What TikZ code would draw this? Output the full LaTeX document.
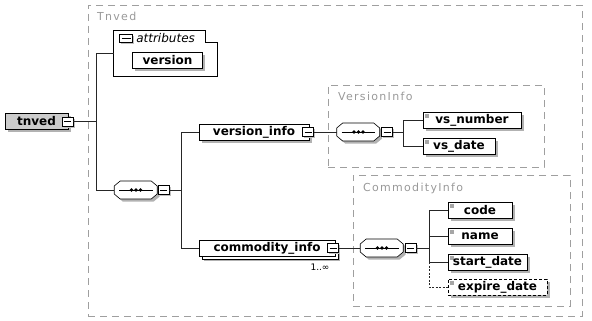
\documentclass[tikz,border=0pt]{standalone}
\usepackage{fontspec}
\setmainfont{DejaVu Sans}
\newfontfamily\grpfont[LetterSpace=12]{DejaVu Sans}
\usetikzlibrary{shadows,calc}

% octagon of a sequence compositor, shifted by #2
\newcommand{\octpath}[2]{([shift={(#2)}]#1.west) ++(0,-4) -- ++(6,-5) -- ++(31,0) -- ++(6,5) -- ++(0,8) -- ++(-6,5) -- ++(-31,0) -- ++(-6,-5) -- cycle}
\newcommand{\seqnode}[2]{%
  \node[seqbox] (#1) at (#2) {};
  \fill[gray!60] \octpath{#1}{2.5pt,-2.5pt};
  \filldraw[fill=white] \octpath{#1}{0pt,0pt};
  \draw ([xshift=5pt]#1.west) -- ([xshift=-5pt]#1.east);
  \foreach \dx in {-4.5,0,4.5} \fill ([xshift=\dx pt]#1.center) circle (1.8pt);
}

\begin{document}
\begin{tikzpicture}[
      x=1pt, y=-1pt,
      font=\fontsize{12}{14}\selectfont,
      line width=0.6pt,
      shade/.style={drop shadow={shadow xshift=2.5pt, shadow yshift=-2.5pt, fill=gray!60, opacity=1}},
      box/.style={draw, fill=white, font=\fontsize{12}{14}\selectfont\bfseries, minimum height=16, inner sep=1pt},
      elem/.style={shade, box},
      leaf/.style={elem, path picture={\fill[gray!70] ([shift={(1.5pt,-1.5pt)}]path picture bounding box.north west) rectangle ++(4.5pt,-4.5pt);}},
      multi/.style={drop shadow={shadow xshift=5pt, shadow yshift=-5pt, fill=gray!60, opacity=1},
                    copy shadow={shadow xshift=3pt, shadow yshift=-3pt, draw, fill=white}},
      minus/.style={draw, fill=white, minimum width=11, minimum height=9, inner sep=0pt,
                    drop shadow={shadow xshift=1.5pt, shadow yshift=-1.5pt, fill=gray!50, opacity=1},
                    path picture={\draw ([xshift=2pt]path picture bounding box.west) -- ([xshift=-2pt]path picture bounding box.east);}},
      seqbox/.style={minimum width=43, minimum height=18, inner sep=0pt},
      grp/.style={draw=gray!75, dash pattern=on 7pt off 5pt, line width=0.5pt},
      grplbl/.style={font=\grpfont\fontsize{11}{13}\selectfont, text=gray!80, anchor=north west, inner sep=0pt},
      conn/.style={draw=black!85}
    ]
    \useasboundingbox (0,0) rectangle (592,321);

    % Frames
    \node[grp, minimum width=494, minimum height=311] (tnvedgrp) at (335,160.5) {};
    \node[grplbl] (tnvedlbl) at ([shift={(9pt,-7pt)}]tnvedgrp.north west) {Tnved};
    \node[grp, minimum width=216, minimum height=82] (vgrp) at (436,126) {};
    \node[grplbl] (vgrplbl) at ([shift={(10pt,-7pt)}]vgrp.north west) {VersionInfo};
    \node[grp, minimum width=217, minimum height=131] (cgrp) at (461.5,240.5) {};
    \node[grplbl] (cgrplbl) at ([shift={(10pt,-8pt)}]cgrp.north west) {CommodityInfo};

    % Root element
    \node[elem, fill=gray!40, minimum width=63] (tnved) at (36.5,121.5) {tnved};
    \node[minus] (tnvedm) at (67.5,121.5) {};

    % Attributes
    \node[minimum width=103, minimum height=45] (attr) at (165.5,53.5) {};
    \draw (attr.north west) -- ([xshift=-12pt]attr.north east) -- ++(0,12) -| (attr.south east) -- (attr.south west) -- cycle;
    \node[minus, minimum width=13, minimum height=8] (attrm) at (126,38.5) {};
    \node[font=\fontsize{12}{14}\selectfont\itshape, anchor=west, inner sep=0pt] (attrlbl) at (136,38.5) {attributes};
    \node[elem, minimum width=70] (version) at (167.5,60.5) {version};

    % Top sequence
    \seqnode{seq1}{136,190}
    \node[minus] (seq1m) at (163.5,190) {};
    \coordinate (j1) at (96,121.5);
    \draw[conn] (tnvedm.east) -- (j1) |- (attr.west);
    \draw[conn] (j1) |- (seq1.west);

    \node[elem, minimum width=110] (vinfo) at (254,132) {version\_info};
    \node[minus] (vinfom) at (308,132) {};
    \node[box, multi, minimum width=136] (cinfo) at (267,248) {commodity\_info};
    \node[minus] (cinfom) at (333,248) {};
    \node[font=\fontsize{9}{11}\selectfont, inner sep=0pt] (cmult) at (320,267) {1..∞};
    \coordinate (j2) at (181,190);
    \draw[conn] (seq1m.east) -- (j2) |- (vinfo.west);
    \draw[conn] (j2) |- (cinfo.west);

    % VersionInfo
    \seqnode{seq2}{358.5,132}
    \node[minus] (seq2m) at (387,132) {};
    \node[leaf, minimum width=98] (vsnum) at (472,120) {vs\_number};
    \node[leaf, minimum width=72] (vsdate) at (459,146) {vs\_date};
    \coordinate (j3) at (403,132);
    \draw[conn] (vinfom.east) -- (seq2.west);
    \draw[conn] (seq2m.east) -- (j3) |- (vsnum.west);
    \draw[conn] (j3) |- (vsdate.west);

    % CommodityInfo
    \seqnode{seq3}{382,248}
    \node[minus] (seq3m) at (410.5,248) {};
    \node[leaf, minimum width=64] (code) at (480,210) {code};
    \node[leaf, minimum width=64] (name) at (480,236) {name};
    \node[leaf, minimum width=79] (start) at (487.5,262) {start\_date};
    \node[leaf, minimum width=99, dash pattern=on 3pt off 2pt] (expire) at (497.5,287) {expire\_date};
    \coordinate (j4) at (429,248);
    \draw[conn] (cinfom.east) -- (seq3.west);
    \draw[conn] (seq3m.east) -- (j4) |- (code.west);
    \draw[conn] (j4) |- (name.west);
    \draw[conn] (j4) |- (start.west);
    \draw[conn, dash pattern=on 2pt off 1.5pt] (j4 |- start.west) |- (expire.west);
  \end{tikzpicture}
\end{document}
